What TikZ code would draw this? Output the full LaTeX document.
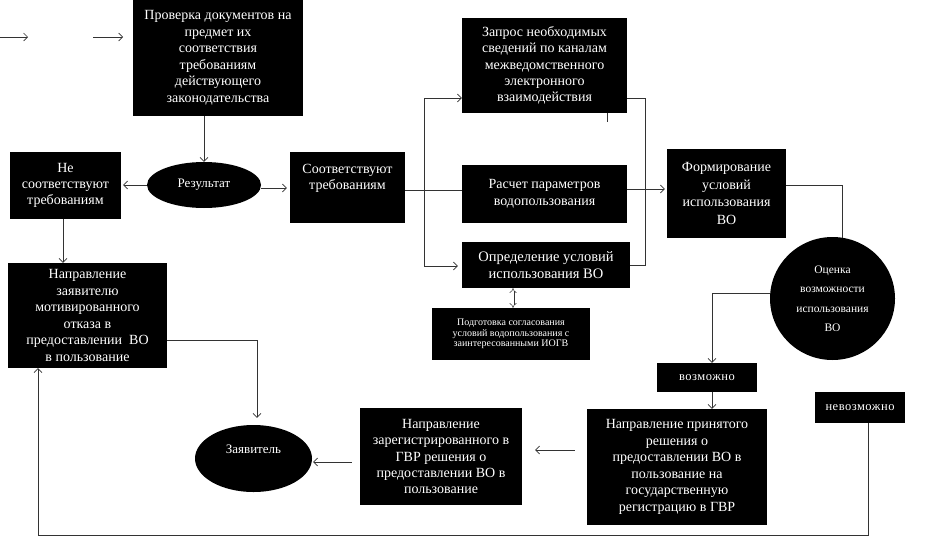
\documentclass[tikz,border=0pt]{standalone}
\usepackage{fontspec}
\setmainfont{Liberation Serif}
\usetikzlibrary{arrows.meta,shapes.geometric}
\begin{document}
\begin{tikzpicture}[x=1pt,y=-1pt,
  box/.style={fill=black,text=white,draw=none,align=center,inner sep=0pt,
    font=\fontsize{14}{16.5}\selectfont},
  oval/.style={ellipse,fill=black,text=white,draw=none,align=center,inner sep=0pt},
  smallbox/.style={box,font=\fontsize{12.5}{14}\selectfont\addfontfeatures{LetterSpace=4}},
  conn/.style={draw=black!80,line width=0.6pt},
  arr/.style={conn,-{Straight Barb[length=4pt,width=8pt]}},
]
\useasboundingbox (0,0) rectangle (926,541);

% nodes
\node[box,minimum width=170,minimum height=116] (check) at (218,58)
  {Проверка документов на\\предмет их\\соответствия\\требованиям\\действующего\\законодательства};
\node[oval,minimum width=114,minimum height=46,font=\fontsize{13}{15}\selectfont] (result) at (204,185) {Результат};
\node[box,minimum width=111,minimum height=67,font=\fontsize{14}{16}\selectfont] (notok) at (65.5,185.5)
  {Не\\соответствуют\\требованиям};
\node[box,minimum width=159,minimum height=105] (refuse) at (87.5,315.5)
  {Направление\\заявителю\\мотивированного\\отказа в\\предоставлении~~ВО\\в пользование};
\node[box,minimum width=115,minimum height=71,font=\fontsize{14}{16}\selectfont] (ok) at (347.5,187.5)
  {Соответствуют\\требованиям\\\strut};
\node[box,minimum width=165,minimum height=95,font=\fontsize{14}{16.3}\selectfont] (query) at (544.5,65.5)
  {Запрос необходимых\\сведений по каналам\\межведомственного\\электронного\\взаимодействия};
\node[box,minimum width=165,minimum height=58,font=\fontsize{14}{17}\selectfont] (calc) at (544.5,194)
  {Расчет параметров\\водопользования};
\node[box,minimum width=168,minimum height=46,font=\fontsize{14.5}{17}\selectfont] (define) at (546,265)
  {Определение условий\\использования ВО};
\node[box,minimum width=158,minimum height=52,font=\fontsize{10}{10.5}\selectfont] (prep) at (511,334)
  {Подготовка согласования\\условий водопользования с\\заинтересованными ИОГВ};
\node[box,minimum width=119,minimum height=89,font=\fontsize{14}{17.5}\selectfont] (form) at (726.5,193.5)
  {Формирование\\условий\\использования\\ВО};
\node[oval,minimum width=125,minimum height=123,font=\fontsize{11.5}{19.5}\selectfont] (assess) at (832.5,298.5)
  {Оценка\\возможности\\использования\\ВО};
\node[smallbox,minimum width=100,minimum height=29] (possible) at (707,377.5) {возможно};
\node[smallbox,minimum width=90,minimum height=31] (impossible) at (860,407.5) {невозможно};
\node[box,minimum width=180,minimum height=116] (sendreg) at (677,467)
  {Направление принятого\\решения о\\предоставлении ВО в\\пользование на\\государственную\\регистрацию в ГВР};
\node[box,minimum width=162,minimum height=97,font=\fontsize{14}{16.2}\selectfont] (sendreg2) at (441,456.5)
  {Направление\\зарегистрированного в\\ГВР решения о\\предоставлении ВО в\\пользование};
\node[oval,minimum width=117,minimum height=67,font=\fontsize{13}{15}\selectfont] (applicant) at (253.5,458.5)
  {Заявитель\\[3pt]};

% free arrows at top left
\coordinate (a1s) at (0,37);  \coordinate (a1e) at (28,37);
\coordinate (a2s) at (93,37); \coordinate (a2e) at (123,37);
\draw[arr] (a1s) -- (a1e);
\draw[arr] (a2s) -- (a2e);

% connectors
\draw[arr] (check.south -| result.north) -- (result.north);
\draw[arr,shorten >=2pt] (result.west) -- (result.west -| notok.east);
\draw[arr,shorten >=3pt] ([yshift=-3pt]result.east) -- ([yshift=-3pt]result.east -| ok.west);
\draw[arr] ([xshift=-2.5pt]notok.south) -- ([xshift=-2.5pt]notok.south |- refuse.north);
\draw[arr,shorten >=7pt] ([yshift=-24.5pt]refuse.east) -| ([xshift=3.5pt]applicant.north);

\draw[conn] ([yshift=-2.5pt]ok.east) -- ([yshift=-2.5pt]ok.east -| calc.west);
\coordinate (bt) at (424,98);
\coordinate (bb) at (424,266);
\draw[conn] (bt) -- (bb);
\draw[arr] (bt) -- (bt -| query.west);
\draw[arr,shorten >=4pt] (bb) -- (bb -| define.west);

\coordinate (rt) at (645,98);
\coordinate (rb) at (645,265);
\draw[conn] (rt -| query.east) -- (rt) -- (rb) -- (rb -| define.east);
\draw[arr,shorten >=2pt] ([yshift=5pt]calc.east) -- ([yshift=5pt]calc.east -| form.west);
\draw[conn] ([xshift=62.5pt]query.south) -- ++(0,9);

\coordinate (dx) at (513,0);
\draw[draw=black!80,line width=0.5pt,double distance=2pt,{Implies}-{Implies}]
  (define.south -| dx) -- (prep.north -| dx);

\draw[conn] ([yshift=8.5pt]form.east) -| ([xshift=9.5pt,yshift=-1pt]assess.north);
\draw[arr] ([yshift=5.5pt]assess.west) -| ([xshift=5pt]possible.north);
\draw[arr] ([xshift=5pt]possible.south) -- ([xshift=5pt]possible.south |- sendreg.north);
\draw[arr,shorten <=12pt,shorten >=13pt] ([yshift=17pt]sendreg.west) -- ([yshift=17pt]sendreg.west -| sendreg2.east);
\draw[arr,shorten <=8pt,shorten >=1pt] ([yshift=-5.5pt]sendreg2.west) -- ([yshift=-5.5pt]sendreg2.west -| applicant.east);

\coordinate (lb) at (0,535);
\draw[arr] ([xshift=8pt]impossible.south) |- ([xshift=-49.5pt]refuse.south |- lb) -- ([xshift=-49.5pt]refuse.south);
\end{tikzpicture}
\end{document}
